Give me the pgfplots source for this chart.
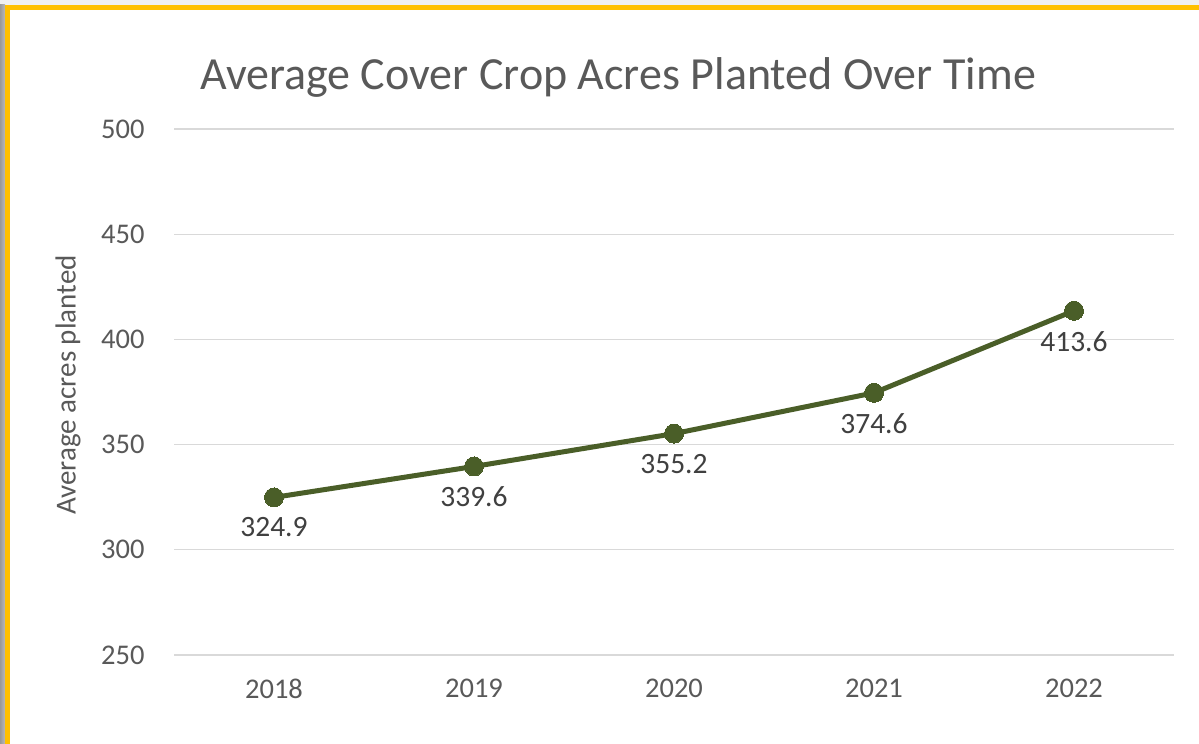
\documentclass[border=0pt]{standalone}
\usepackage{fontspec}
\setmainfont{Carlito}
\usepackage{pgfplots}
\pgfplotsset{compat=1.18}
\definecolor{txtgray}{HTML}{595959}
\definecolor{lblgray}{HTML}{404040}
\definecolor{gridgray}{HTML}{D9D9D9}
\definecolor{linegreen}{HTML}{4A5E28}
\definecolor{gold}{HTML}{FFC000}
\begin{document}
\begin{tikzpicture}[x=1pt,y=1pt]
% frame: shadow, gold border, white page
\fill[gray!12] (0,0) rectangle (1199,744);
\fill[left color=gray!80, right color=gray!55] (0,0) rectangle (5,739);
\fill[gold] (5,0) rectangle (1199,739);
\fill[white] (10,0) rectangle (1199,734);
\node[font=\fontsize{46}{50}\selectfont, text=txtgray, anchor=base] at (618,744-90) {Average Cover Crop Acres Planted Over Time};
\node[font=\fontsize{29}{31}\selectfont, text=txtgray, rotate=90, anchor=center] at (68,744-385) {Average acres planted};
\begin{axis}[
  at={(174pt,89pt)}, anchor=south west,
  scale only axis, width=1000pt, height=526pt,
  xmin=-0.5, xmax=4.5, ymin=250, ymax=500,
  xtick={0,1,2,3,4}, xticklabels={2018,2019,2020,2021,2022},
  ytick={250,300,350,400,450,500},
  ymajorgrids, grid style={gridgray, line width=1.2pt},
  axis line style={draw=none}, axis x line*=bottom, axis y line*=left,
  x axis line style={draw=gridgray, line width=1.2pt},
  tick style={draw=none},
  ticklabel style={font=\fontsize{28.5}{30}\selectfont, text=txtgray},
  /pgf/number format/assume math mode=true,
  yticklabel style={xshift=-26pt},
  xticklabel style={yshift=-20pt},
  clip=false,
  nodes near coords, point meta=explicit symbolic,
  every node near coord/.append style={font=\fontsize{29.5}{31}\selectfont, text=lblgray, anchor=north, yshift=-17pt},
]
\addplot[color=linegreen, line width=5pt, mark=*, mark size=9.5pt, mark options={fill=linegreen, draw=linegreen, line width=0pt}]
  table[meta=label] {
x y label
0 324.9 324.9
1 339.6 339.6
2 355.2 355.2
3 374.6 374.6
4 413.6 413.6
};
\end{axis}
\end{tikzpicture}
\end{document}
